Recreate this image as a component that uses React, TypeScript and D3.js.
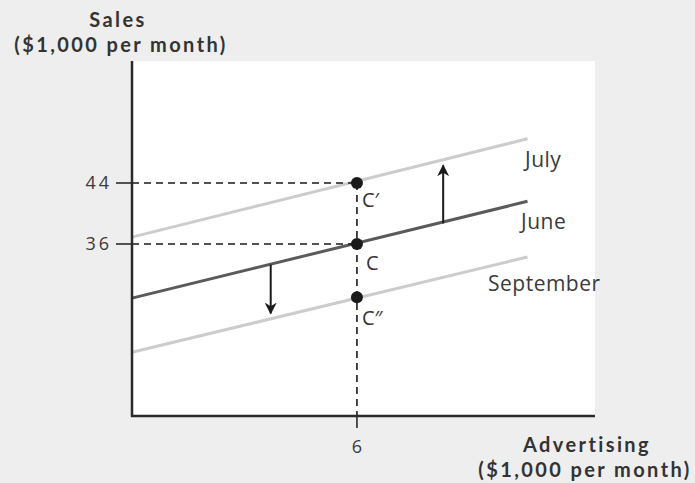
import React from "react";
import * as d3 from "d3";

// Axis values
const xTicks = [6];
const yTicks = [36, 44];

// Shifting sales-vs-advertising lines (value at start and end of each line)
const lineX = [0, 10.55];
const months = ["July", "June", "September"];
const monthStart = [36.9, 28.9, 21.8];
const monthEnd = [49.8, 41.6, 34.3];

// Highlighted points at advertising = 6
const pointLabels = ["C\u2032", "C", "C\u2033"];
const pointX = [6, 6, 6];
const pointY = [44, 36, 29];

// Shift arrows: from June line toward July (up) and September (down)
const arrowX = [8.3, 3.7];
const arrowFrom = [38.7, 33.3];
const arrowTo = [46.3, 26.9];

// Axis titles, one entry per line
const yTitle = ["Sales", "($1,000 per month)"];
const xTitle = ["Advertising", "($1,000 per month)"];

const W = 695;
const H = 483;
const FONT = "'Open Sans', 'Noto Sans', sans-serif";
const TITLE_FONT = "Lato, 'Open Sans', sans-serif";

export default function App() {
  const left = 132;
  const right = 595;
  const top = 61;
  const bottom = 416;

  const x = d3.scaleLinear().domain([0, 12.35]).range([left, right]);
  const y = d3.scaleLinear().domain([13.44, 60]).range([bottom, top]);

  const line = d3
    .line<[number, number]>()
    .x((d) => x(d[0]))
    .y((d) => y(d[1]));

  const lineColors = ["#cccccc", "#5a5a5a", "#cccccc"];
  const labelPos = [
    { x: 525, y: 167 },
    { x: 521, y: 229 },
    { x: 488, y: 291 },
  ];
  const pointLabelOffset = [
    { dx: 5, dy: 24 },
    { dx: 9, dy: 26 },
    { dx: 5, dy: 28 },
  ];

  const titleProps = {
    fontFamily: TITLE_FONT,
    fontWeight: 700,
    fontSize: 20,
    fill: "#333",
    letterSpacing: 2.4,
    textAnchor: "middle",
  } as const;

  return (
    <div style={{ position: "fixed", left: 0, top: 0 }}>
      <svg width={W} height={H} style={{ display: "block" }}>
        <defs>
          <marker
            id="arrowHead"
            viewBox="0 0 10 10"
            refX="9"
            refY="5"
            markerWidth="6"
            markerHeight="6"
            orient="auto"
            markerUnits="strokeWidth"
          >
            <path d="M0,0 L10,5 L0,10 L3,5 Z" fill="#1a1a1a" />
          </marker>
        </defs>
        <rect x={0} y={0} width={W} height={H} fill="#eeeeee" />
        <rect x={left} y={top} width={right - left} height={bottom - top} fill="#ffffff" />

        {/* month lines */}
        {months.map((m, i) => (
          <path
            key={m}
            d={line([
              [lineX[0], monthStart[i]],
              [lineX[1], monthEnd[i]],
            ]) as string}
            stroke={lineColors[i]}
            strokeWidth={3}
            fill="none"
          />
        ))}

        {/* guide lines to the axes */}
        {pointY.slice(0, 2).map((v, i) => (
          <line
            key={"h" + i}
            x1={x(0)}
            x2={x(pointX[i])}
            y1={y(v)}
            y2={y(v)}
            stroke="#1a1a1a"
            strokeWidth={1.6}
            strokeDasharray="7,5"
          />
        ))}
        <line
          x1={x(pointX[0])}
          x2={x(pointX[0])}
          y1={y(pointY[0])}
          y2={bottom}
          stroke="#1a1a1a"
          strokeWidth={1.6}
          strokeDasharray="7,5"
        />

        {/* arrows */}
        {arrowX.map((ax, i) => (
          <line
            key={"a" + i}
            x1={x(ax)}
            x2={x(ax)}
            y1={y(arrowFrom[i])}
            y2={y(arrowTo[i])}
            stroke="#1a1a1a"
            strokeWidth={2}
            markerEnd="url(#arrowHead)"
          />
        ))}

        {/* points */}
        {pointY.map((v, i) => (
          <circle key={"p" + i} cx={x(pointX[i])} cy={y(v)} r={6} fill="#1a1a1a" />
        ))}
        {pointLabels.map((t, i) => (
          <text
            key={"pl" + i}
            x={x(pointX[i]) + pointLabelOffset[i].dx}
            y={y(pointY[i]) + pointLabelOffset[i].dy}
            fontFamily={FONT}
            fontSize={20}
            fill="#333"
          >
            {t}
          </text>
        ))}

        {/* month labels */}
        {months.map((m, i) => (
          <text
            key={"ml" + i}
            x={labelPos[i].x}
            y={labelPos[i].y}
            fontFamily={FONT}
            fontSize={21}
            letterSpacing={0.5}
            fill="#3a3a3a"
          >
            {m}
          </text>
        ))}

        {/* axes */}
        <line x1={left} x2={left} y1={top} y2={bottom + 1} stroke="#2a2a2a" strokeWidth={2.5} />
        <line x1={left - 1} x2={right} y1={bottom} y2={bottom} stroke="#2a2a2a" strokeWidth={2.5} />

        {yTicks.map((t) => (
          <g key={"yt" + t}>
            <line x1={left - 16} x2={left} y1={y(t)} y2={y(t)} stroke="#2a2a2a" strokeWidth={1.6} />
            <text
              x={112}
              y={y(t)}
              dy="0.36em"
              textAnchor="end"
              fontFamily={FONT}
              fontSize={18}
              letterSpacing={3}
              fill="#3a3a3a"
            >
              {t}
            </text>
          </g>
        ))}
        {xTicks.map((t) => (
          <g key={"xt" + t}>
            <line x1={x(t)} x2={x(t)} y1={bottom} y2={bottom + 12} stroke="#2a2a2a" strokeWidth={1.6} />
            <text
              x={x(t)}
              y={bottom + 37}
              textAnchor="middle"
              fontFamily={FONT}
              fontSize={18}
              fill="#3a3a3a"
            >
              {t}
            </text>
          </g>
        ))}

        {/* axis titles (two lines each) */}
        <text y={27} {...titleProps}>
          <tspan x={118}>{yTitle[0]}</tspan>
          <tspan x={121} dy={25}>
            {yTitle[1]}
          </tspan>
        </text>
        <text y={452} {...titleProps}>
          <tspan x={587}>{xTitle[0]}</tspan>
          <tspan x={585} dy={24.5}>
            {xTitle[1]}
          </tspan>
        </text>
      </svg>
    </div>
  );
}
